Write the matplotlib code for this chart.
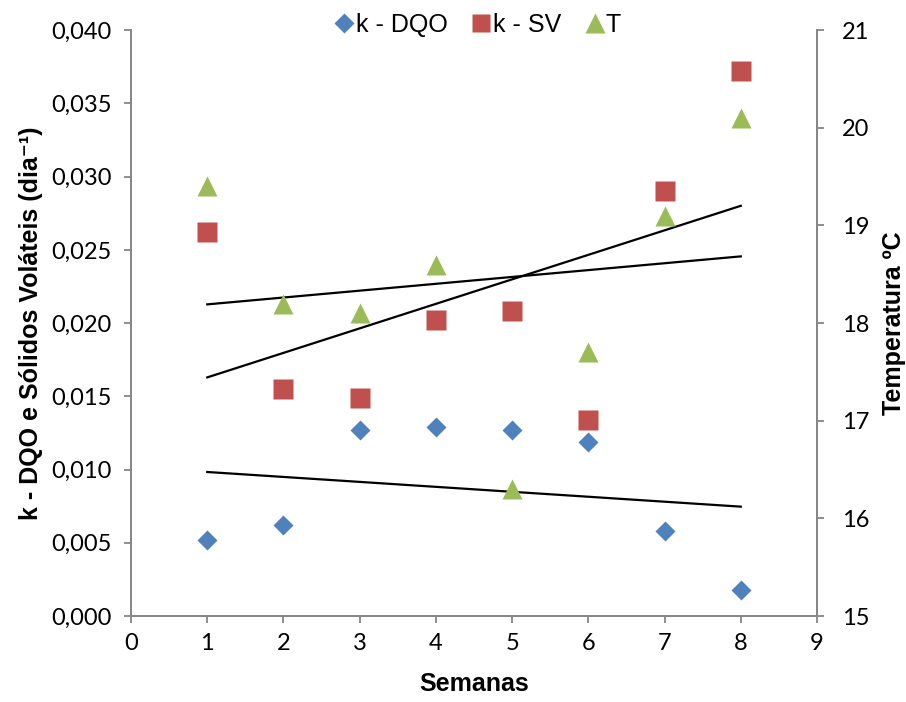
import numpy as np
import matplotlib
matplotlib.use("Agg")
import matplotlib.pyplot as plt
from matplotlib.ticker import FuncFormatter, MultipleLocator

# dados
semanas = [1, 2, 3, 4, 5, 6, 7, 8]
k_dqo = [0.0052, 0.0062, 0.0127, 0.0129, 0.0127, 0.0119, 0.0058, 0.0018]
k_sv = [0.0262, 0.0155, 0.0149, 0.0202, 0.0208, 0.0134, 0.0290, 0.0372]
temp = [19.4, 18.2, 18.1, 18.6, 16.3, 17.7, 19.1, 20.1]

AZUL = "#4F81BD"
VERMELHO = "#C0504D"
VERDE = "#9BBB59"
CINZA = "#868686"
FONTE = ["Liberation Sans", "DejaVu Sans"]

fig = plt.figure(figsize=(9.06, 7.02), dpi=100)
ax = fig.add_axes([0.1446, 0.1225, 0.7572, 0.8345])
ax2 = ax.twinx()

x = np.array(semanas)

# pontos
h1, = ax.plot(x, k_dqo, "D", color=AZUL, ms=10.5, mec="none", label="k - DQO")
h2, = ax.plot(x, k_sv, "s", color=VERMELHO, ms=14, mec="none", label="k - SV")
h3, = ax2.plot(x, temp, "^", color=VERDE, ms=15, mec="none", label="T")

# linhas de tendência (regressão linear)
for serie, eixo in [(k_dqo, ax), (k_sv, ax), (temp, ax2)]:
    a, b = np.polyfit(x, serie, 1)
    eixo.plot([x.min(), x.max()], [a * x.min() + b, a * x.max() + b],
              color="black", lw=1.6, zorder=1)

ax.set_xlim(0, 9)
ax.set_ylim(0, 0.040)
ax2.set_ylim(15, 21)
ax.xaxis.set_major_locator(MultipleLocator(1))
ax.yaxis.set_major_locator(MultipleLocator(0.005))
ax2.yaxis.set_major_locator(MultipleLocator(1))
ax.yaxis.set_major_formatter(FuncFormatter(lambda v, p: f"{v:.3f}".replace(".", ",")))

for eixo in (ax, ax2):
    eixo.spines["top"].set_visible(False)
    for s in ("left", "right", "bottom"):
        eixo.spines[s].set_color(CINZA)
        eixo.spines[s].set_linewidth(1.3)
    eixo.tick_params(axis="both", colors=CINZA, labelcolor="black", length=5,
                     width=1.3, labelsize=17)
    for lbl in eixo.get_xticklabels() + eixo.get_yticklabels():
        lbl.set_fontfamily("Lato")
ax.tick_params(axis="y", pad=9)
ax.tick_params(axis="x", pad=7.5)
ax2.tick_params(axis="y", pad=13)

ax.set_xlabel("Semanas", fontsize=18, fontweight="bold", family=FONTE)
ax.set_ylabel("k - DQO e Sólidos Voláteis (dia⁻¹)", fontsize=18, fontweight="bold",
              family=FONTE)
ax2.set_ylabel("Temperatura ºC", fontsize=18, fontweight="bold", family=FONTE)
ax.xaxis.set_label_coords(0.5, -0.095)
ax.yaxis.set_label_coords(-0.128, 0.5)
ax2.yaxis.set_label_coords(1.095, 0.5)

fig.legend(handles=[h1, h2, h3], loc="center", bbox_to_anchor=(0.528, 0.965),
           ncol=3, frameon=False, handlelength=0.7, handletextpad=0.1,
           columnspacing=1.0, markerscale=0.95,
           prop={"family": "Liberation Sans", "size": 18})

fig.savefig("out.png", dpi=100)
plt.close(fig)
